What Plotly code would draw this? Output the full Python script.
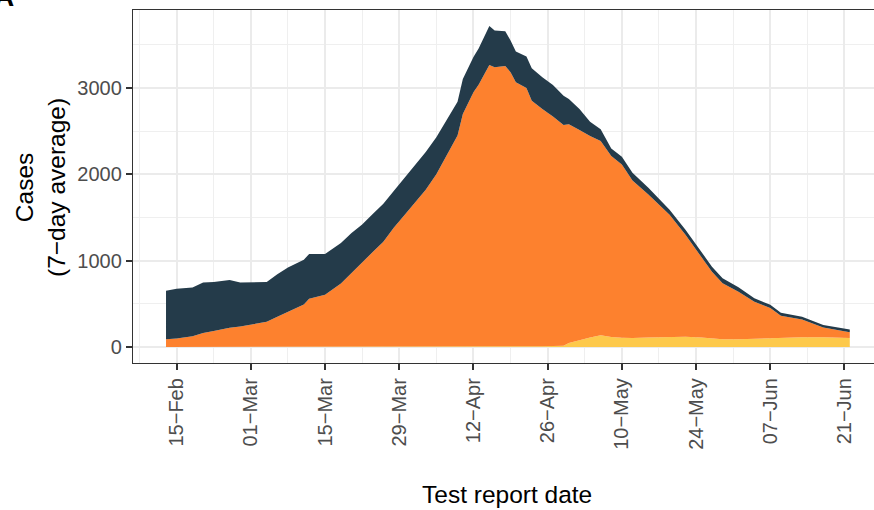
import plotly.graph_objects as go

dates = ["2021-02-13", "2021-02-15", "2021-02-18", "2021-02-20", "2021-02-22", "2021-02-25",
         "2021-02-27", "2021-03-02", "2021-03-04", "2021-03-06", "2021-03-08", "2021-03-11",
         "2021-03-12", "2021-03-15", "2021-03-18", "2021-03-20", "2021-03-22", "2021-03-24",
         "2021-03-26", "2021-03-28", "2021-03-30", "2021-04-01", "2021-04-03", "2021-04-05",
         "2021-04-07", "2021-04-09", "2021-04-10", "2021-04-12", "2021-04-13", "2021-04-15",
         "2021-04-16", "2021-04-18", "2021-04-19", "2021-04-20", "2021-04-22", "2021-04-23",
         "2021-04-25", "2021-04-27", "2021-04-29", "2021-04-30", "2021-05-02", "2021-05-04",
         "2021-05-06", "2021-05-08", "2021-05-10", "2021-05-12", "2021-05-15", "2021-05-17",
         "2021-05-19", "2021-05-22", "2021-05-25", "2021-05-27", "2021-05-29", "2021-06-01",
         "2021-06-04", "2021-06-07", "2021-06-09", "2021-06-13", "2021-06-17", "2021-06-22"]

yellow = [0] * 31 + [3, 3, 5, 6, 7, 8, 10, 15, 45, 80, 110, 136, 115, 108, 105, 110, 112, 122,
                     118, 110, 95, 88, 88, 95, 102, 108, 113, 112, 105]

orange = [90, 99, 125, 163, 185, 223, 236, 270, 291, 350, 410, 492, 558, 605, 735, 860, 980,
          1100, 1220, 1385, 1530, 1669, 1820, 2000, 2220, 2450, 2700, 2950, 3040, 3268, 3241,
          3253, 3180, 3061, 2994, 2845, 2748, 2660, 2558, 2536, 2435, 2335, 2251, 2097, 2007,
          1824, 1656, 1538, 1411, 1182, 938, 775, 650, 552, 429, 350, 253, 206, 114, 66]

dark = [562, 576, 564, 585, 567, 553, 510, 475, 461, 493, 510, 517, 518, 473, 470, 460, 440,
        440, 438, 425, 430, 446, 440, 430, 420, 390, 405, 410, 420, 450, 426, 402, 368, 357,
        365, 377, 368, 365, 337, 291, 241, 163, 136, 86, 90, 90, 78, 70, 58, 59, 58, 60, 58,
        51, 39, 38, 35, 30, 27, 31]

tick_dates = ["2021-02-15", "2021-03-01", "2021-03-15", "2021-03-29", "2021-04-12", "2021-04-26",
              "2021-05-10", "2021-05-24", "2021-06-07", "2021-06-21"]
tick_text = ["15\u2212Feb", "01\u2212Mar", "15\u2212Mar", "29\u2212Mar", "12\u2212Apr", "26\u2212Apr",
             "10\u2212May", "24\u2212May", "07\u2212Jun", "21\u2212Jun"]
y_ticks = [0, 1000, 2000, 3000]

series = [("yellow", yellow, "#FDC94B"), ("orange", orange, "#FD812E"), ("dark", dark, "#243B4A")]

FONT = "Liberation Sans, Arial, Helvetica, sans-serif"

fig = go.Figure()
for name, vals, col in series:
    fig.add_trace(go.Scatter(
        x=dates, y=vals, name=name, mode="lines", stackgroup="one",
        line=dict(width=0, color=col), fillcolor=col, showlegend=False,
        hoverinfo="skip"))

fig.update_layout(
    width=874, height=510,
    margin=dict(l=133, r=0, t=10, b=147),
    plot_bgcolor="white", paper_bgcolor="white",
    font=dict(family=FONT, color="#4D4D4D"),
    xaxis=dict(
        range=["2021-02-06 18:30", "2021-06-26 13:40"],
        tickmode="array", tickvals=tick_dates, ticktext=tick_text,
        tickangle=-90, tickfont=dict(size=20, color="#4D4D4D"),
        ticks="outside", ticklen=6, tickwidth=1.5, tickcolor="#333333",
        showgrid=True, gridcolor="#EBEBEB", gridwidth=1.6,
        minor=dict(dtick=7 * 86400000, tick0="2021-02-08", showgrid=True,
                   gridcolor="#EFEFEF", gridwidth=0.9),
        showline=True, mirror=True, linecolor="#333333", linewidth=1.3,
        zeroline=False,
    ),
    yaxis=dict(
        range=[-186, 3904],
        tickmode="array", tickvals=y_ticks,
        tickfont=dict(size=20, color="#4D4D4D"),
        ticks="outside", ticklen=6, tickwidth=1.5, tickcolor="#333333",
        showgrid=True, gridcolor="#EBEBEB", gridwidth=1.6,
        minor=dict(dtick=500, tick0=0, showgrid=True, gridcolor="#EFEFEF", gridwidth=0.9),
        showline=True, mirror=False, linecolor="#333333", linewidth=1.3,
        zeroline=False,
    ),
    annotations=[
        dict(text="Test report date", xref="paper", yref="paper",
             x=(507 - 133) / 741, y=(363 - 494) / 353, xanchor="center", yanchor="middle",
             showarrow=False, font=dict(size=24.5, color="black", family=FONT)),
        dict(text="Cases<br>(7\u2212day average)", xref="paper", yref="paper",
             x=(40 - 133) / 741, y=(363 - 188) / 353, xanchor="center", yanchor="middle",
             textangle=-90, showarrow=False,
             font=dict(size=24.5, color="black", family=FONT)),
        dict(text="<b>A</b>", xref="paper", yref="paper",
             x=(4 - 133) / 741, y=(363 - 14) / 353, xanchor="center", yanchor="bottom",
             showarrow=False, font=dict(size=28, color="black", family=FONT)),
    ],
)

fig.write_html(
    "out.html",
    config={"displayModeBar": False},
    post_script="document.body.style.margin='0';document.body.style.overflow='hidden';",
)
